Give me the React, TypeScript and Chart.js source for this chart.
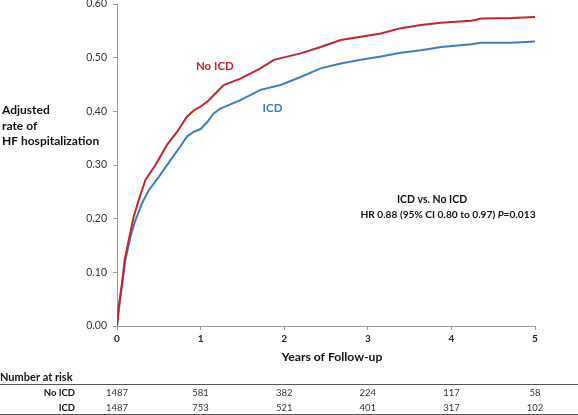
import React, { useEffect, useRef } from "react";
import { Chart, registerables } from "chart.js";
Chart.register(...registerables);

const FONT = "Lato";

const years = [0, 1, 2, 3, 4, 5];
const yTicks = [0, 0.1, 0.2, 0.3, 0.4, 0.5, 0.6];

const noIcdT = [0, 0.02, 0.06, 0.092, 0.14, 0.2, 0.26, 0.34, 0.46, 0.6, 0.72, 0.836, 0.92, 1.0, 1.08, 1.156, 1.276, 1.476, 1.716, 1.876, 2.196, 2.436, 2.676, 2.916, 3.156, 3.396, 3.636, 3.876, 4.236, 4.356, 4.716, 5.0];
const noIcdV = [0, 0.036, 0.08, 0.123, 0.16, 0.204, 0.235, 0.272, 0.30, 0.338, 0.362, 0.39, 0.402, 0.409, 0.418, 0.43, 0.449, 0.461, 0.48, 0.496, 0.508, 0.52, 0.533, 0.539, 0.545, 0.555, 0.561, 0.565, 0.569, 0.573, 0.574, 0.576];

const icdT = [0, 0.012, 0.052, 0.1, 0.16, 0.22, 0.3, 0.38, 0.5, 0.64, 0.76, 0.836, 0.92, 1.0, 1.08, 1.156, 1.236, 1.476, 1.716, 1.956, 2.196, 2.436, 2.676, 2.916, 3.156, 3.396, 3.636, 3.876, 4.236, 4.356, 4.716, 5.0];
const icdV = [0, 0.017, 0.067, 0.123, 0.166, 0.197, 0.229, 0.253, 0.278, 0.309, 0.335, 0.353, 0.362, 0.367, 0.38, 0.396, 0.405, 0.421, 0.44, 0.449, 0.464, 0.48, 0.489, 0.496, 0.502, 0.509, 0.514, 0.52, 0.525, 0.528, 0.528, 0.53];

const riskGroups = ["No ICD", "ICD"];
const riskNoIcd = [1487, 581, 382, 224, 117, 58];
const riskIcd = [1487, 753, 521, 401, 317, 102];

const RED = "#C0272D";
const BLUE = "#3C7DC2";

const textPlugin = {
  id: "texts",
  afterDraw(chart: any) {
    const ctx = chart.ctx as CanvasRenderingContext2D;
    const xs = chart.scales.x;
    const ys = chart.scales.y;
    ctx.save();
    ctx.textBaseline = "middle";

    // y-axis title
    ctx.fillStyle = "#111";
    ctx.font = `bold 12px ${FONT}`;
    ctx.textAlign = "left";
    ctx.fillText("Adjusted", 2, 110);
    ctx.fillText("rate of", 2, 126);
    ctx.fillText("HF hospitalization", 2, 141);

    // series labels
    ctx.textAlign = "center";
    ctx.font = `bold 11.5px ${FONT}`;
    ctx.fillStyle = RED;
    ctx.fillText("No ICD", xs.getPixelForValue(1.17), ys.getPixelForValue(0.483));
    ctx.fillStyle = BLUE;
    ctx.fillText("ICD", xs.getPixelForValue(1.86), ys.getPixelForValue(0.406));

    // HR annotation
    ctx.fillStyle = "#111";
    ctx.font = `bold 10.5px ${FONT}`;
    ctx.fillText("ICD vs. No ICD", 432, 200);
    const hf = 10.2;
    ctx.font = `bold ${hf}px ${FONT}`;
    const p1 = "HR 0.88 (95% CI 0.80 to 0.97) ";
    const p3 = "=0.013";
    const w1 = ctx.measureText(p1).width;
    const w3 = ctx.measureText(p3).width;
    ctx.font = `italic bold ${hf}px ${FONT}`;
    const w2 = ctx.measureText("P").width;
    const total = w1 + w2 + w3;
    let sx = 448 - total / 2;
    ctx.textAlign = "left";
    ctx.font = `bold ${hf}px ${FONT}`;
    ctx.fillText(p1, sx, 215);
    sx += w1;
    ctx.font = `italic bold ${hf}px ${FONT}`;
    ctx.fillText("P", sx, 215);
    sx += w2;
    ctx.font = `bold ${hf}px ${FONT}`;
    ctx.fillText(p3, sx, 215);

    // x-axis title
    ctx.textAlign = "center";
    ctx.font = `bold 12.2px ${FONT}`;
    ctx.fillText("Years of Follow-up", 332, 357);

    // number at risk table
    ctx.textAlign = "left";
    ctx.font = `bold 11px ${FONT}`;
    ctx.fillText("Number at risk", 0, 377);
    ctx.strokeStyle = "#555";
    ctx.lineWidth = 1;
    ctx.beginPath();
    ctx.moveTo(0, 384.5);
    ctx.lineTo(578, 384.5);
    ctx.moveTo(0, 414.5);
    ctx.lineTo(578, 414.5);
    ctx.stroke();

    const rows = [riskNoIcd, riskIcd];
    const rowY = [393, 408];
    rows.forEach((row, r) => {
      ctx.textAlign = "right";
      ctx.font = `bold 9.5px ${FONT}`;
      ctx.fillStyle = "#111";
      ctx.fillText(riskGroups[r], 75, rowY[r]);
      ctx.textAlign = "center";
      ctx.font = `9.5px ${FONT}`;
      ctx.fillStyle = "#333";
      row.forEach((n, i) => {
        ctx.fillText(String(n), xs.getPixelForValue(years[i]), rowY[r]);
      });
    });
    ctx.restore();
  },
};

export default function App() {
  const ref = useRef<HTMLCanvasElement>(null);
  useEffect(() => {
    document.body.style.margin = "0";
    const chart = new Chart(ref.current!, {
      type: "line",
      data: {
        datasets: [
          {
            label: "No ICD",
            data: noIcdT.map((t, i) => ({ x: t, y: noIcdV[i] })),
            borderColor: RED,
            borderWidth: 2,
            pointRadius: 0,
            tension: 0,
          },
          {
            label: "ICD",
            data: icdT.map((t, i) => ({ x: t, y: icdV[i] })),
            borderColor: BLUE,
            borderWidth: 2,
            pointRadius: 0,
            tension: 0,
          },
        ],
      },
      options: {
        animation: false,
        responsive: false,
        layout: { autoPadding: false, padding: { top: 4, right: 43, left: 0, bottom: 0 } },
        plugins: { legend: { display: false }, tooltip: { enabled: false } },
        scales: {
          x: {
            type: "linear",
            min: 0,
            max: 5,
            afterFit: (s: any) => {
              s.height = 89;
              s.paddingLeft = 0;
              s.paddingRight = 0;
            },
            afterBuildTicks: (s: any) => {
              s.ticks = years.map((v) => ({ value: v }));
            },
            ticks: {
              font: { family: FONT, size: 10, weight: "bold" },
              color: "#222",
              padding: 3,
              callback: (v: any) => String(v),
            },
            grid: { drawOnChartArea: false, drawTicks: true, tickLength: 4, color: "#999" },
            border: { color: "#999" },
          },
          y: {
            min: 0,
            max: 0.6,
            afterFit: (s: any) => {
              s.width = 117;
              s.paddingTop = 0;
              s.paddingBottom = 0;
            },
            afterBuildTicks: (s: any) => {
              s.ticks = yTicks.map((v) => ({ value: v }));
            },
            ticks: {
              font: { family: FONT, size: 10.5 },
              color: "#333",
              padding: 6,
              callback: (v: any) => Number(v).toFixed(2),
            },
            grid: { drawOnChartArea: false, drawTicks: true, tickLength: 4, color: "#999" },
            border: { color: "#999" },
          },
        },
      },
      plugins: [textPlugin],
    });
    return () => chart.destroy();
  }, []);
  return (
    <div style={{ position: "absolute", left: 0, top: 0, width: 578, height: 415 }}>
      <canvas ref={ref} width={578} height={415} />
    </div>
  );
}
